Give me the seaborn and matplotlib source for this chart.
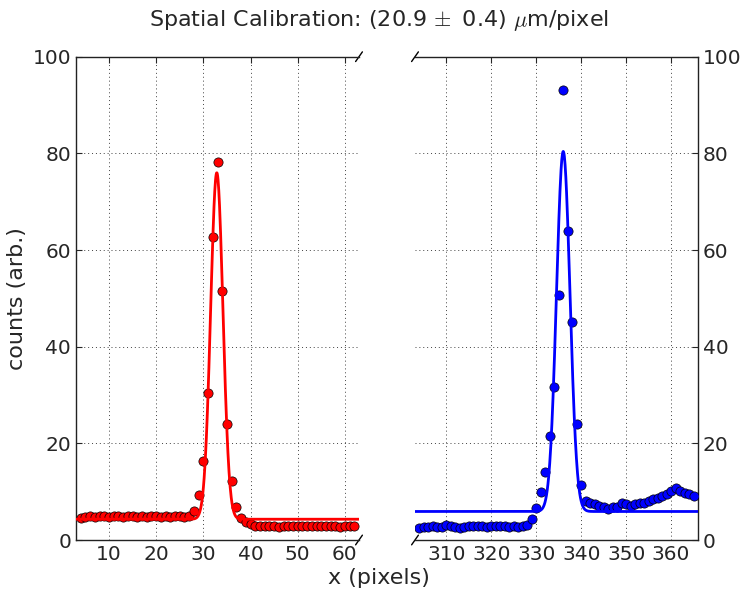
import numpy as np
import pandas as pd
import matplotlib
matplotlib.use("Agg")
import matplotlib.pyplot as plt
import seaborn as sns

# ---------------- data ----------------
left_x = list(range(4, 63))
left_counts = [4.6, 4.8, 4.9, 4.8, 5.0, 4.9, 4.8, 4.9, 5.0, 4.7, 4.9, 5.0,
               4.8, 4.9, 4.7, 4.9, 5.0, 4.8, 4.9, 4.7, 5.0, 4.9, 4.8, 4.9,
               6.1, 9.4, 16.3, 30.4, 62.7, 78.3, 51.6, 23.9, 12.3, 6.8, 4.6,
               3.8, 3.3, 2.9, 3.0, 2.8, 2.9, 3.0, 2.7, 2.9, 3.0, 2.9, 2.8,
               3.0, 2.8, 2.9, 2.8, 3.0, 2.9, 2.9, 2.8, 2.7, 2.8, 2.9, 3.0]

right_x = list(range(304, 366))
right_counts = [2.5, 2.6, 2.7, 2.8, 2.7, 2.6, 3.1, 2.8, 2.6, 2.5, 2.6, 3.0,
                2.9, 2.8, 2.8, 2.7, 2.9, 3.0, 2.8, 2.9, 2.7, 2.8, 2.7, 2.9,
                3.2, 4.3, 6.6, 10.0, 14.1, 21.6, 31.6, 50.6, 93.1, 64.0, 45.2,
                23.9, 11.3, 8.1, 7.6, 7.4, 7.0, 6.8, 6.5, 6.8, 6.9, 7.7, 7.4,
                7.0, 7.4, 7.7, 7.6, 8.0, 8.4, 8.7, 9.1, 9.6, 10.1, 10.8, 10.1,
                9.8, 9.6, 9.2]

# Gaussian fit parameters (amplitude, centre, sigma, offset)
left_fit = dict(amp=71.7, center=32.85, sigma=1.3, offset=4.3)
right_fit = dict(amp=74.5, center=336.0, sigma=1.5, offset=5.9)

left_xlim = (3, 63)
right_xlim = (303, 366)
y_ticks = [0, 20, 40, 60, 80, 100]
left_xticks = [10, 20, 30, 40, 50, 60]
right_xticks = [310, 320, 330, 340, 350, 360]

title = r"Spatial Calibration: (20.9$\,\pm$ 0.4) $\mu$m/pixel"
xlabel = "x (pixels)"
ylabel = "counts (arb.)"

# ---------------- style ----------------
sns.set_style("white")
plt.rcParams.update({
    "font.family": ["DejaVu Sans"],
    "font.size": 16,
    "mathtext.fontset": "cm",
    "xtick.direction": "in",
    "ytick.direction": "in",
    "axes.edgecolor": "black",
})


def fit_curve(params, xlim):
    xs = np.linspace(xlim[0] - 1, xlim[1] + 1, 800)
    ys = params["offset"] + params["amp"] * np.exp(
        -(xs - params["center"]) ** 2 / (2 * params["sigma"] ** 2))
    return pd.DataFrame({"x": xs, "y": ys})


fig = plt.figure(figsize=(7.47, 5.92), dpi=100)
ax1 = fig.add_axes([76 / 747, 1 - 540 / 592, 283 / 747, 483.3 / 592])
ax2 = fig.add_axes([415 / 747, 1 - 540 / 592, 283 / 747, 483.3 / 592])

panels = [
    (ax1, left_x, left_counts, left_fit, left_xlim, left_xticks, "red"),
    (ax2, right_x, right_counts, right_fit, right_xlim, right_xticks, "blue"),
]

for ax, xs, ys, fit, xlim, xt, col in panels:
    df = pd.DataFrame({"x": xs, "y": ys})
    sns.scatterplot(data=df, x="x", y="y", ax=ax, color=col, s=44,
                    edgecolor="black", linewidth=0.5, zorder=3, legend=False)
    sns.lineplot(data=fit_curve(fit, xlim), x="x", y="y", ax=ax, color=col,
                 lw=2, estimator=None, sort=False, zorder=4, legend=False)
    ax.set_xlim(*xlim)
    ax.set_ylim(0, 100)
    ax.set_xticks(xt)
    ax.set_yticks(y_ticks)
    ax.set_xlabel("")
    ax.set_ylabel("")
    ax.grid(True, color="black", linestyle=(0, (1, 3)), linewidth=0.7,
            alpha=0.75)
    ax.tick_params(axis="both", which="major", labelsize=14.5, length=4.5,
                   width=0.8, top=True, direction="in")
    for sp in ax.spines.values():
        sp.set_linewidth(1.0)
        sp.set_color("#222222")

ax1.spines["right"].set_visible(False)
ax2.spines["left"].set_visible(False)
ax1.yaxis.tick_left()
ax2.yaxis.tick_right()
ax1.tick_params(top=True, direction="in")
ax2.tick_params(top=True, direction="in")
ax1.set_ylabel(ylabel, fontsize=16, labelpad=4)

# break marks
dx, dy = 0.012, 0.01
kw = dict(color="black", clip_on=False, lw=1.0)
ax1.plot((1 - dx, 1 + dx), (-dy, dy), transform=ax1.transAxes, **kw)
ax1.plot((1 - dx, 1 + dx), (1 - dy, 1 + dy), transform=ax1.transAxes, **kw)
ax2.plot((-dx, dx), (-dy, dy), transform=ax2.transAxes, **kw)
ax2.plot((-dx, dx), (1 - dy, 1 + dy), transform=ax2.transAxes, **kw)

fig.text(0.507, 0.966, title, ha="center", va="center", fontsize=16)
fig.text(0.507, 0.024, xlabel, ha="center", va="center", fontsize=16)

fig.savefig("out.png", dpi=100, facecolor="white")
